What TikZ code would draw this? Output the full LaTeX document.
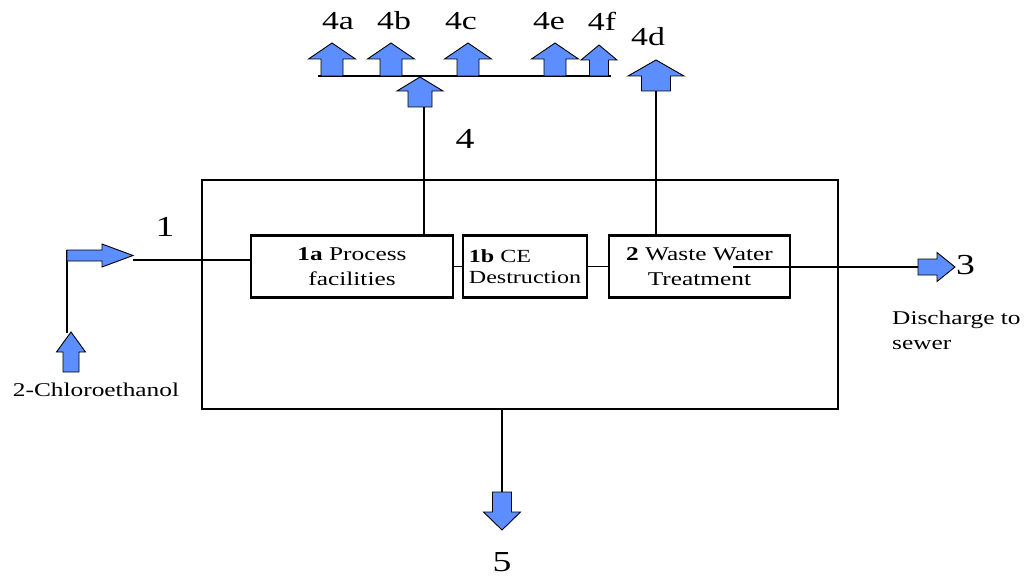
\documentclass[tikz,border=0pt]{standalone}
\usepackage{fontspec}
\setmainfont{Liberation Serif}[FakeStretch=1.3]
\definecolor{arrowblue}{RGB}{92,142,255}
\tikzset{
  pics/blockarrow/.style n args={4}{code={
    \filldraw[fill=arrowblue,draw=black,line width=0.9pt,line join=miter]
      (0,-#4/2) -- (#1-#2,-#4/2) -- (#1-#2,-#3/2) -- (#1,0) -- (#1-#2,#3/2) -- (#1-#2,#4/2) -- (0,#4/2) -- cycle;}},
  unit/.style={draw,line width=2.2pt,minimum height=62pt,inner sep=0pt,align=center,font=\fontsize{19.5}{25}\selectfont},
  flow/.style={line width=1.2pt},
  stream/.style={inner sep=0pt,font=\fontsize{29}{32}\selectfont},
  vent/.style={inner sep=0pt,font=\fontsize{26}{30}\selectfont},
  note/.style={inner sep=0pt,align=left,font=\fontsize{19.5}{25}\selectfont}
}
\begin{document}
\begin{tikzpicture}[x=1pt,y=1pt]
  \useasboundingbox (0,0) rectangle (1029,-578);
  \node (plant) [draw,line width=1.5pt,minimum width=636pt,minimum height=229pt,inner sep=0pt] at (520,-294.5) {};
  \node (pf) [unit,minimum width=202pt] at (352,-266.5) {\textbf{1a} Process\\facilities};
  \node (ce) [unit,minimum width=124pt,align=left,font=\fontsize{18.5}{21}\selectfont] at (525,-266.5) {\textbf{1b} CE\\Destruction};
  \node (ww) [unit,minimum width=181pt] at (699.5,-266.5) {\textbf{2} Waste Water\\Treatment};
  \coordinate (feedtip) at (67,-333);
  \coordinate (feedtop) at (67,-250);
  \coordinate (in1) at (133,-260);
  \coordinate (wwout) at (733,-267);
  \coordinate (out3) at (918,-267);
  \coordinate (vent4) at (424,-107);
  \coordinate (vent4d) at (656,-91);
  \coordinate (drain) at (502,-492);
  \coordinate (hdrl) at (318,-76);
  \coordinate (hdrr) at (611,-76);
  \draw[flow] (feedtip) -- (feedtop);
  \draw[flow] (in1) -- (in1 -| pf.west);
  \draw[flow] (pf.east) -- (ce.west);
  \draw[flow] (ce.east) -- (ww.west);
  \draw[flow] (wwout) -- (out3);
  \draw[flow] (vent4 |- pf.north) -- (vent4);
  \draw[flow] (vent4d |- ww.north) -- (vent4d);
  \draw[flow] (drain |- plant.south) -- (drain);
  \draw[flow] (hdrl) -- (hdrr);
  \pic[rotate=90] at (71,-372) {blockarrow={40}{20}{29}{16}};
  \pic at (67,-255.5) {blockarrow={66}{31}{23}{11}};
  \pic at (out3) {blockarrow={37}{18}{29}{16}};
  \pic[rotate=-90] at (drain) {blockarrow={38}{18}{37}{19}};
  \pic[rotate=90] at (420,-107) {blockarrow={30}{14}{46}{24}};
  \pic[rotate=90] at (vent4d) {blockarrow={31}{16}{56}{29}};
  \foreach \x in {332,391,468,555}
    \pic[rotate=90] at (\x,-76) {blockarrow={33}{16}{47}{22}};
  \pic[rotate=90] at (599,-76) {blockarrow={31}{15}{36}{19}};
  \node (lbl1) [stream] at (165,-227) {1};
  \node (lbl4) [stream] at (465,-139) {4};
  \node (lbl3) [stream,anchor=west] at (956,-265) {3};
  \node (lbl5) [stream] at (502,-562) {5};
  \node (lbl4a) [vent] at (338,-21) {4a};
  \node (lbl4b) [vent] at (394,-21) {4b};
  \node (lbl4c) [vent] at (461,-21) {4c};
  \node (lbl4e) [vent] at (549,-21) {4e};
  \node (lbl4f) [vent] at (602,-21) {4f};
  \node (lbl4d) [vent] at (648,-37) {4d};
  \node (feed) [note] at (96,-390) {2-Chloroethanol};
  \node (sewer) [note,anchor=north west] at (892,-311) {Discharge to\\sewer};
\end{tikzpicture}
\end{document}
